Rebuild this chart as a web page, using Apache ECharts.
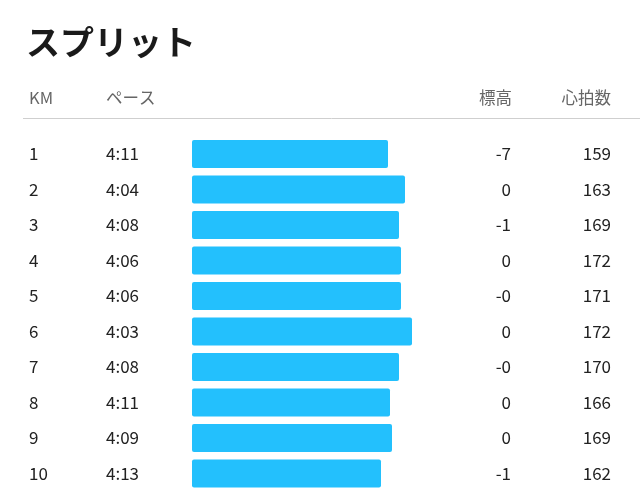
<!doctype html>
<html>
    <head>
        <meta charset="utf-8">
        <style>
            html, body { margin: 0; padding: 0; background: #fff; }
            #main { width: 640px; height: 504px; }
        </style>
    </head>
    <body>
        <div id="main"></div>
        <script src="https://cdn.jsdelivr.net/npm/echarts@6/dist/echarts.min.js"></script>
        <script>
            var km = ['1', '2', '3', '4', '5', '6', '7', '8', '9', '10'];
            var pace = ['4:11', '4:04', '4:08', '4:06', '4:06', '4:03', '4:08', '4:11', '4:09', '4:13'];
            // bar length (relative speed)
            var speedBar = [196, 213, 207, 209, 209, 220, 207, 198, 200, 189];
            var elevation = ['-7', '0', '-1', '0', '-0', '0', '-0', '0', '0', '-1'];
            var heartRate = ['159', '163', '169', '172', '171', '172', '170', '166', '169', '162'];
            var headers = ['KM', 'ペース', '標高', '心拍数'];

            var font = '"Noto Sans CJK JP", "Noto Sans", sans-serif';
            var chart = echarts.init(document.getElementById('main'));

            function column(data, position, align, margin) {
                return {
                    type: 'category',
                    data: data,
                    inverse: true,
                    position: position,
                    axisLine: { show: false },
                    axisTick: { show: false },
                    splitLine: { show: false },
                    axisLabel: {
                        interval: 0,
                        align: align,
                        margin: margin,
                        padding: [4, 0, 0, 0],
                        fontSize: 17,
                        color: '#222',
                        fontFamily: font
                    }
                };
            }

            function header(text, x, align) {
                return {
                    type: 'text',
                    x: x,
                    y: 98,
                    style: {
                        text: text,
                        fill: '#666',
                        font: '16.5px ' + font,
                        textAlign: align,
                        textVerticalAlign: 'middle'
                    }
                };
            }

            chart.setOption({
                animation: false,
                title: {
                    text: 'スプリット',
                    left: 21,
                    top: 20,
                    textStyle: {
                        fontSize: 34,
                        fontWeight: 'bold',
                        color: '#1a1a1a',
                        fontFamily: font
                    }
                },
                grid: {
                    left: 192,
                    right: 218,
                    top: 136.25,
                    bottom: 12.75,
                    containLabel: false
                },
                xAxis: {
                    type: 'value',
                    min: 0,
                    max: 230,
                    show: false
                },
                yAxis: [
                    column(km, 'left', 'left', 163),
                    column(pace, 'left', 'left', 86),
                    column(elevation, 'right', 'right', 89),
                    column(heartRate, 'right', 'right', 189)
                ],
                series: [{
                    type: 'bar',
                    yAxisIndex: 0,
                    data: speedBar,
                    barWidth: 28,
                    itemStyle: {
                        color: '#23c0fd',
                        borderRadius: 2
                    }
                }],
                graphic: [
                    header(headers[0], 29, 'left'),
                    header(headers[1], 106, 'left'),
                    header(headers[2], 512, 'right'),
                    header(headers[3], 611, 'right'),
                    { type: 'line', shape: { x1: 23, y1: 118.5, x2: 640, y2: 118.5 }, style: { stroke: '#cfcfcf', lineWidth: 1 } }
                ]
            });

            window.onresize = chart.resize;
        </script>
    </body>
</html>
